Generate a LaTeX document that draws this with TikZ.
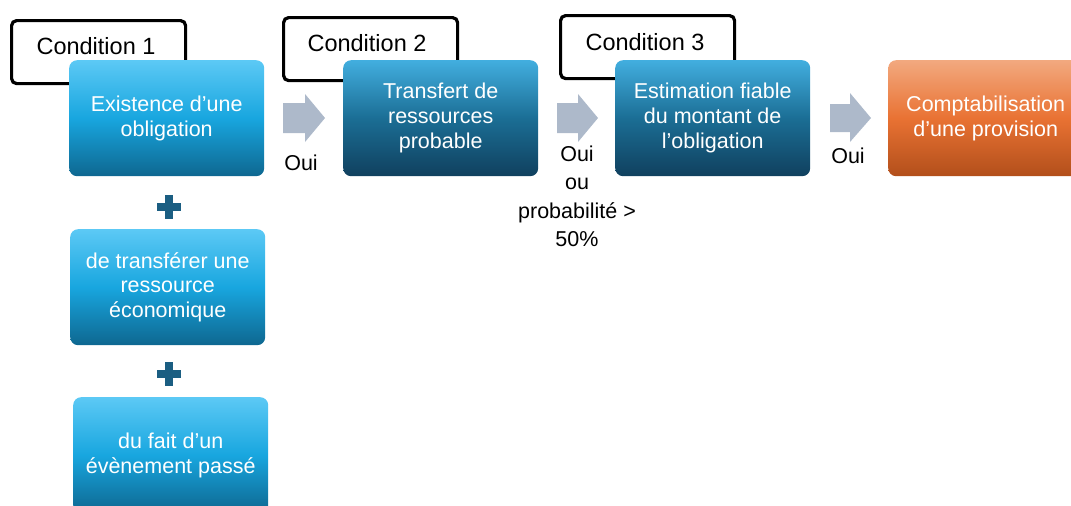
\documentclass[tikz,border=0pt]{standalone}
\usepackage{fontspec}
\setmainfont{Liberation Sans}
\definecolor{lbTop}{HTML}{5CC9F5}
\definecolor{lbMid}{HTML}{18A6DF}
\definecolor{lbBot}{HTML}{0E6790}
\definecolor{dbTop}{HTML}{42AEDF}
\definecolor{dbMid}{HTML}{1B6E95}
\definecolor{dbBot}{HTML}{10405E}
\definecolor{orTop}{HTML}{F2A97F}
\definecolor{orMid}{HTML}{E97233}
\definecolor{orBot}{HTML}{B24F1B}
\definecolor{arrowgray}{HTML}{ADB9CA}
\definecolor{plusblue}{HTML}{1B5E82}
\begin{document}
\begin{tikzpicture}[x=1pt,y=-1pt,
  condbox/.style={draw=black,line width=3.2pt,rounded corners=5pt,fill=white,minimum width=174pt,minimum height=63pt,anchor=north west,inner sep=0pt},
  condtext/.style={font=\fontsize{23.5}{28}\selectfont,text=black},
  boxbase/.style={rounded corners=8pt,minimum width=195pt,minimum height=116pt,anchor=north west,inner sep=0pt,text=white,align=center,font=\fontsize{21.5}{24.8}\selectfont},
  lightbox/.style={boxbase,top color=lbTop,bottom color=lbBot,middle color=lbMid},
  darkbox/.style={boxbase,top color=dbTop,bottom color=dbBot,middle color=dbMid},
  orangebox/.style={boxbase,top color=orTop,bottom color=orBot,middle color=orMid},
  blockarrow/.style={fill=arrowgray},
  plus/.style={fill=plusblue},
  lbl/.style={font=\fontsize{21.5}{28.5}\selectfont,text=black,align=center}
]
\useasboundingbox (0,0) rectangle (1071,506);
\clip (0,0) rectangle (1071,506);
% condition boxes
\node[condbox] (c1) at (10,19) {};
\node[condtext] (c1t) at (96,46) {Condition 1};
\node[condbox] (c2) at (282,16) {};
\node[condtext] (c2t) at (367,43) {Condition 2};
\node[condbox] (c3) at (559,14) {};
\node[condtext] (c3t) at (645,42) {Condition 3};
% main boxes
\node[lightbox] (b1) at (69,60) {Existence d’une\\obligation};
\node[darkbox] (b2) at (343,60) {Transfert de\\ressources\\probable};
\node[darkbox] (b3) at (615,60) {Estimation fiable\\du montant de\\l’obligation};
\node[orangebox] (b4) at (888,60) {Comptabilisation\\d’une provision};
\node[lightbox] (b5) at (70,229) {de transférer une\\ressource\\économique};
\node[lightbox] (b6) at (73,397) {du fait d’un\\évènement passé};
% block arrows
\fill[blockarrow] (283,103) -- (305,103) -- (305,94) -- (325,118) -- (305,142) -- (305,133) -- (283,133) -- cycle;
\fill[blockarrow] (557,103) -- (578,103) -- (578,94) -- (598,118) -- (578,142) -- (578,133) -- (557,133) -- cycle;
\fill[blockarrow] (830,104) -- (850,104) -- (850,93) -- (871,118) -- (850,142) -- (850,132) -- (830,132) -- cycle;
% labels
\node[lbl] (l1) at (301,163) {Oui};
\node[lbl,anchor=north] (l2) at (577,142) {Oui\\ou\\probabilité >\\50\%};
\node[lbl] (l3) at (848,156) {Oui};
% plus signs
\fill[plus] (157,203) rectangle (181,211);
\fill[plus] (165,195) rectangle (173,219);
\fill[plus] (157,370) rectangle (181,378);
\fill[plus] (165,362) rectangle (173,386);
\end{tikzpicture}
\end{document}
